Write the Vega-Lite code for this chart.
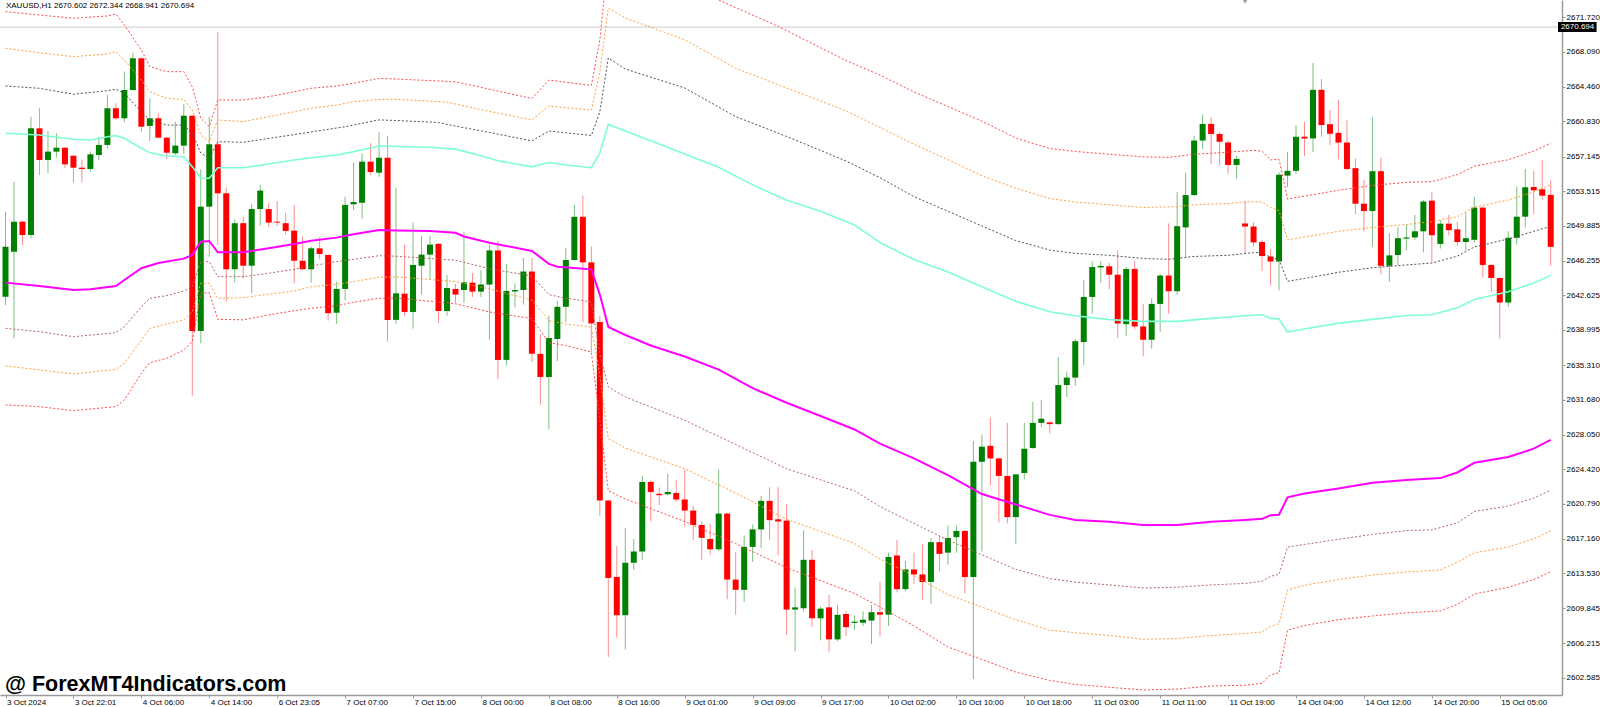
{
"$schema": "https://vega.github.io/schema/vega-lite/v6.json",
"width": 1562, "height": 695,
"autosize": {"type": "none"},
"padding": {"left": 0, "top": 0, "right": 38, "bottom": 12},
"background": "white",
"config": {"view": {"stroke": null},
 "axis": {"grid": false, "labelColor": "#000000", "domainColor": "#9a9a9a", "tickColor": "#9a9a9a", "labelFont": "Liberation Sans", "labelOverlap": false, "labelFlush": false, "labelBound": false, "title": null},
 "axisX": {"labelOverlap": false}, "axisY": {"labelOverlap": false}},
"datasets": {
"candles": [
{"i":0,"o":2642.48,"h":2651.38,"l":2641.61,"c":2647.71},
{"i":1,"o":2647.19,"h":2654.51,"l":2638.12,"c":2650.33},
{"i":2,"o":2650.33,"h":2650.41,"l":2647.89,"c":2648.93},
{"i":3,"o":2648.93,"h":2661.32,"l":2648.59,"c":2660.10},
{"i":4,"o":2660.10,"h":2662.20,"l":2655.21,"c":2656.79},
{"i":5,"o":2656.79,"h":2659.82,"l":2655.40,"c":2657.66},
{"i":6,"o":2657.66,"h":2659.58,"l":2657.06,"c":2658.07},
{"i":7,"o":2658.07,"h":2658.15,"l":2655.92,"c":2656.33},
{"i":8,"o":2657.23,"h":2657.31,"l":2654.41,"c":2655.98},
{"i":9,"o":2655.98,"h":2656.79,"l":2654.41,"c":2655.84},
{"i":10,"o":2655.84,"h":2657.66,"l":2655.57,"c":2657.38},
{"i":11,"o":2657.31,"h":2659.22,"l":2656.79,"c":2658.36},
{"i":12,"o":2658.36,"h":2663.59,"l":2658.01,"c":2662.20},
{"i":13,"o":2662.20,"h":2662.72,"l":2660.98,"c":2661.15},
{"i":14,"o":2661.15,"h":2666.03,"l":2660.73,"c":2664.11},
{"i":15,"o":2664.11,"h":2668.01,"l":2664.06,"c":2667.43},
{"i":16,"o":2667.43,"h":2667.51,"l":2659.69,"c":2660.27},
{"i":17,"o":2660.35,"h":2663.24,"l":2658.78,"c":2661.15},
{"i":18,"o":2661.15,"h":2661.68,"l":2659.04,"c":2659.12},
{"i":19,"o":2659.12,"h":2659.18,"l":2656.86,"c":2657.55},
{"i":20,"o":2657.49,"h":2660.80,"l":2657.31,"c":2658.29},
{"i":21,"o":2658.29,"h":2662.61,"l":2657.42,"c":2661.42},
{"i":22,"o":2661.42,"h":2661.50,"l":2632.12,"c":2638.89},
{"i":23,"o":2638.89,"h":2655.81,"l":2637.60,"c":2651.90},
{"i":24,"o":2651.90,"h":2661.32,"l":2646.67,"c":2658.43},
{"i":25,"o":2658.43,"h":2670.21,"l":2647.89,"c":2653.30},
{"i":26,"o":2653.30,"h":2653.89,"l":2641.96,"c":2645.35},
{"i":27,"o":2645.35,"h":2650.58,"l":2643.95,"c":2650.17},
{"i":28,"o":2650.17,"h":2650.86,"l":2644.40,"c":2645.72},
{"i":29,"o":2645.72,"h":2652.19,"l":2642.83,"c":2651.65},
{"i":30,"o":2651.65,"h":2654.14,"l":2649.91,"c":2653.58},
{"i":31,"o":2651.65,"h":2652.31,"l":2649.74,"c":2650.23},
{"i":32,"o":2650.33,"h":2652.49,"l":2649.88,"c":2650.23},
{"i":33,"o":2650.17,"h":2651.27,"l":2648.93,"c":2649.36},
{"i":34,"o":2649.39,"h":2652.08,"l":2643.88,"c":2646.24},
{"i":35,"o":2646.24,"h":2648.76,"l":2645.29,"c":2645.35},
{"i":36,"o":2645.35,"h":2647.71,"l":2643.95,"c":2647.54},
{"i":37,"o":2647.54,"h":2648.70,"l":2646.39,"c":2646.95},
{"i":38,"o":2646.85,"h":2646.91,"l":2639.97,"c":2640.75},
{"i":39,"o":2640.80,"h":2644.05,"l":2639.62,"c":2643.29},
{"i":40,"o":2643.29,"h":2652.95,"l":2642.13,"c":2652.08},
{"i":41,"o":2652.15,"h":2656.50,"l":2651.56,"c":2652.39},
{"i":42,"o":2652.31,"h":2657.49,"l":2650.64,"c":2656.61},
{"i":43,"o":2656.61,"h":2658.53,"l":2655.21,"c":2655.53},
{"i":44,"o":2655.46,"h":2659.72,"l":2655.03,"c":2657.02},
{"i":45,"o":2657.02,"h":2659.30,"l":2637.77,"c":2640.05},
{"i":46,"o":2640.05,"h":2653.89,"l":2639.65,"c":2642.83},
{"i":47,"o":2642.79,"h":2647.89,"l":2640.49,"c":2640.88},
{"i":48,"o":2640.88,"h":2650.25,"l":2639.14,"c":2645.80},
{"i":49,"o":2645.72,"h":2648.84,"l":2642.70,"c":2646.88},
{"i":50,"o":2646.88,"h":2648.84,"l":2644.25,"c":2647.93},
{"i":51,"o":2648.01,"h":2648.10,"l":2639.73,"c":2640.98},
{"i":52,"o":2640.98,"h":2644.75,"l":2640.49,"c":2643.39},
{"i":53,"o":2643.29,"h":2643.81,"l":2641.85,"c":2642.70},
{"i":54,"o":2643.18,"h":2649.28,"l":2641.85,"c":2643.98},
{"i":55,"o":2643.95,"h":2644.96,"l":2642.45,"c":2643.01},
{"i":56,"o":2643.01,"h":2645.22,"l":2642.45,"c":2643.75},
{"i":57,"o":2643.75,"h":2647.93,"l":2637.98,"c":2647.32},
{"i":58,"o":2647.32,"h":2648.31,"l":2633.87,"c":2635.86},
{"i":59,"o":2635.86,"h":2645.90,"l":2635.27,"c":2643.08},
{"i":60,"o":2643.01,"h":2643.86,"l":2641.35,"c":2643.18},
{"i":61,"o":2643.18,"h":2646.53,"l":2641.65,"c":2645.11},
{"i":62,"o":2645.11,"h":2646.53,"l":2635.65,"c":2636.51},
{"i":63,"o":2636.49,"h":2638.53,"l":2631.17,"c":2634.07},
{"i":64,"o":2634.07,"h":2640.49,"l":2628.57,"c":2638.15},
{"i":65,"o":2638.05,"h":2642.04,"l":2635.75,"c":2641.42},
{"i":66,"o":2641.42,"h":2647.57,"l":2639.83,"c":2646.32},
{"i":67,"o":2646.32,"h":2652.08,"l":2646.27,"c":2650.84},
{"i":68,"o":2650.84,"h":2653.08,"l":2639.83,"c":2646.07},
{"i":69,"o":2646.07,"h":2647.73,"l":2636.69,"c":2639.68},
{"i":70,"o":2639.83,"h":2640.46,"l":2619.55,"c":2621.14},
{"i":71,"o":2621.14,"h":2621.19,"l":2604.78,"c":2613.04},
{"i":72,"o":2613.15,"h":2616.38,"l":2606.82,"c":2609.14},
{"i":73,"o":2609.14,"h":2618.28,"l":2605.54,"c":2614.63},
{"i":74,"o":2614.63,"h":2617.12,"l":2613.88,"c":2615.81},
{"i":75,"o":2615.81,"h":2623.72,"l":2614.93,"c":2623.09},
{"i":76,"o":2623.09,"h":2623.23,"l":2618.95,"c":2622.04},
{"i":77,"o":2621.85,"h":2622.50,"l":2620.65,"c":2621.70},
{"i":78,"o":2621.80,"h":2623.92,"l":2621.68,"c":2622.04},
{"i":79,"o":2621.93,"h":2623.32,"l":2621.02,"c":2621.25},
{"i":80,"o":2621.25,"h":2624.39,"l":2618.40,"c":2620.09},
{"i":81,"o":2620.09,"h":2620.58,"l":2617.02,"c":2618.58},
{"i":82,"o":2618.58,"h":2618.95,"l":2614.93,"c":2617.24},
{"i":83,"o":2617.12,"h":2618.71,"l":2615.49,"c":2616.04},
{"i":84,"o":2616.04,"h":2624.39,"l":2615.86,"c":2619.78},
{"i":85,"o":2619.78,"h":2619.86,"l":2610.79,"c":2612.87},
{"i":86,"o":2612.87,"h":2615.72,"l":2609.18,"c":2611.80},
{"i":87,"o":2611.80,"h":2617.48,"l":2610.56,"c":2616.29},
{"i":88,"o":2616.29,"h":2618.63,"l":2614.72,"c":2618.12},
{"i":89,"o":2618.12,"h":2621.62,"l":2616.18,"c":2621.11},
{"i":90,"o":2621.11,"h":2622.54,"l":2617.02,"c":2619.09},
{"i":91,"o":2619.18,"h":2622.54,"l":2615.40,"c":2618.95},
{"i":92,"o":2619.04,"h":2620.79,"l":2607.07,"c":2609.73},
{"i":93,"o":2609.73,"h":2612.04,"l":2605.36,"c":2609.96},
{"i":94,"o":2609.87,"h":2618.02,"l":2609.51,"c":2614.94},
{"i":95,"o":2614.94,"h":2615.97,"l":2607.89,"c":2608.82},
{"i":96,"o":2608.82,"h":2610.06,"l":2606.51,"c":2609.83},
{"i":97,"o":2609.96,"h":2611.26,"l":2605.27,"c":2606.61},
{"i":98,"o":2606.61,"h":2610.22,"l":2606.41,"c":2609.18},
{"i":99,"o":2609.27,"h":2609.59,"l":2606.97,"c":2607.89},
{"i":100,"o":2608.33,"h":2609.10,"l":2607.57,"c":2608.46},
{"i":101,"o":2608.36,"h":2609.55,"l":2608.02,"c":2608.67},
{"i":102,"o":2608.58,"h":2610.22,"l":2606.14,"c":2609.46},
{"i":103,"o":2609.46,"h":2612.62,"l":2606.91,"c":2609.20},
{"i":104,"o":2609.20,"h":2615.69,"l":2608.02,"c":2615.24},
{"i":105,"o":2615.39,"h":2617.02,"l":2611.53,"c":2611.87},
{"i":106,"o":2611.87,"h":2614.82,"l":2611.64,"c":2613.93},
{"i":107,"o":2613.93,"h":2615.69,"l":2612.41,"c":2613.41},
{"i":108,"o":2613.41,"h":2616.57,"l":2610.74,"c":2612.62},
{"i":109,"o":2612.62,"h":2617.22,"l":2610.34,"c":2616.79},
{"i":110,"o":2616.79,"h":2617.45,"l":2613.71,"c":2615.56},
{"i":111,"o":2615.69,"h":2618.53,"l":2614.45,"c":2617.22},
{"i":112,"o":2617.31,"h":2618.53,"l":2615.69,"c":2617.96},
{"i":113,"o":2617.96,"h":2618.04,"l":2611.43,"c":2613.14},
{"i":114,"o":2613.14,"h":2627.39,"l":2602.45,"c":2625.20},
{"i":115,"o":2625.20,"h":2628.05,"l":2615.81,"c":2626.78},
{"i":116,"o":2626.87,"h":2629.85,"l":2622.70,"c":2625.55},
{"i":117,"o":2625.55,"h":2625.63,"l":2618.84,"c":2623.72},
{"i":118,"o":2623.72,"h":2629.27,"l":2618.75,"c":2619.41},
{"i":119,"o":2619.41,"h":2623.95,"l":2616.57,"c":2623.88},
{"i":120,"o":2624.02,"h":2629.27,"l":2623.36,"c":2626.56},
{"i":121,"o":2626.64,"h":2631.47,"l":2626.56,"c":2629.27},
{"i":122,"o":2629.27,"h":2631.69,"l":2628.84,"c":2629.71},
{"i":123,"o":2629.32,"h":2629.40,"l":2628.18,"c":2629.14},
{"i":124,"o":2629.14,"h":2636.16,"l":2629.08,"c":2633.23},
{"i":125,"o":2633.23,"h":2634.64,"l":2631.99,"c":2634.01},
{"i":126,"o":2634.01,"h":2638.05,"l":2633.14,"c":2637.82},
{"i":127,"o":2637.73,"h":2644.24,"l":2635.33,"c":2642.45},
{"i":128,"o":2642.45,"h":2646.19,"l":2640.71,"c":2645.58},
{"i":129,"o":2645.54,"h":2646.19,"l":2643.96,"c":2645.70},
{"i":130,"o":2645.66,"h":2645.99,"l":2643.27,"c":2644.78},
{"i":131,"o":2644.78,"h":2647.30,"l":2638.17,"c":2639.67},
{"i":132,"o":2639.60,"h":2645.58,"l":2638.38,"c":2645.38},
{"i":133,"o":2645.38,"h":2646.19,"l":2639.07,"c":2639.36},
{"i":134,"o":2639.36,"h":2641.72,"l":2636.22,"c":2637.97},
{"i":135,"o":2637.97,"h":2642.32,"l":2637.03,"c":2641.72},
{"i":136,"o":2641.72,"h":2644.88,"l":2638.78,"c":2644.69},
{"i":137,"o":2644.69,"h":2650.14,"l":2640.71,"c":2643.05},
{"i":138,"o":2643.05,"h":2653.45,"l":2642.65,"c":2649.86},
{"i":139,"o":2649.73,"h":2655.48,"l":2646.60,"c":2653.11},
{"i":140,"o":2653.11,"h":2659.31,"l":2653.04,"c":2658.82},
{"i":141,"o":2658.82,"h":2661.55,"l":2657.93,"c":2660.56},
{"i":142,"o":2660.56,"h":2661.26,"l":2656.37,"c":2659.51},
{"i":143,"o":2659.51,"h":2659.71,"l":2656.26,"c":2658.69},
{"i":144,"o":2658.62,"h":2658.82,"l":2655.35,"c":2656.26},
{"i":145,"o":2656.26,"h":2657.20,"l":2654.83,"c":2656.90},
{"i":146,"o":2650.14,"h":2652.50,"l":2647.01,"c":2649.82},
{"i":147,"o":2649.82,"h":2650.27,"l":2647.70,"c":2648.16},
{"i":148,"o":2648.20,"h":2648.43,"l":2645.18,"c":2646.73},
{"i":149,"o":2646.69,"h":2647.42,"l":2643.67,"c":2646.16},
{"i":150,"o":2646.16,"h":2655.48,"l":2643.14,"c":2655.24},
{"i":151,"o":2655.15,"h":2657.60,"l":2653.93,"c":2655.65},
{"i":152,"o":2655.65,"h":2660.44,"l":2655.32,"c":2659.22},
{"i":153,"o":2659.22,"h":2660.77,"l":2657.20,"c":2659.03},
{"i":154,"o":2659.04,"h":2666.94,"l":2657.62,"c":2664.13},
{"i":155,"o":2664.13,"h":2665.26,"l":2659.21,"c":2660.44},
{"i":156,"o":2660.53,"h":2662.02,"l":2658.34,"c":2659.53},
{"i":157,"o":2659.62,"h":2663.07,"l":2656.85,"c":2658.61},
{"i":158,"o":2658.61,"h":2660.93,"l":2655.73,"c":2655.84},
{"i":159,"o":2655.93,"h":2656.94,"l":2651.12,"c":2652.21},
{"i":160,"o":2652.21,"h":2654.73,"l":2649.33,"c":2651.44},
{"i":161,"o":2651.44,"h":2661.25,"l":2647.71,"c":2655.61},
{"i":162,"o":2655.61,"h":2657.04,"l":2644.83,"c":2645.71},
{"i":163,"o":2645.71,"h":2649.11,"l":2644.03,"c":2646.80},
{"i":164,"o":2646.84,"h":2649.79,"l":2645.80,"c":2648.60},
{"i":165,"o":2648.56,"h":2650.01,"l":2647.32,"c":2648.68},
{"i":166,"o":2648.68,"h":2651.04,"l":2648.43,"c":2649.32},
{"i":167,"o":2649.32,"h":2652.60,"l":2647.12,"c":2652.44},
{"i":168,"o":2652.53,"h":2653.45,"l":2646.12,"c":2648.91},
{"i":169,"o":2648.00,"h":2650.52,"l":2647.52,"c":2650.12},
{"i":170,"o":2650.12,"h":2651.04,"l":2648.91,"c":2649.44},
{"i":171,"o":2649.53,"h":2650.32,"l":2647.84,"c":2648.20},
{"i":172,"o":2648.20,"h":2651.32,"l":2647.32,"c":2648.60},
{"i":173,"o":2648.43,"h":2652.93,"l":2648.13,"c":2651.80},
{"i":174,"o":2651.80,"h":2651.92,"l":2644.51,"c":2645.80},
{"i":175,"o":2645.80,"h":2645.88,"l":2642.99,"c":2644.44},
{"i":176,"o":2644.44,"h":2644.50,"l":2638.10,"c":2641.87},
{"i":177,"o":2641.87,"h":2649.33,"l":2641.40,"c":2648.64},
{"i":178,"o":2648.64,"h":2654.00,"l":2647.92,"c":2650.85},
{"i":179,"o":2650.85,"h":2655.84,"l":2649.72,"c":2653.93},
{"i":180,"o":2653.96,"h":2655.61,"l":2651.12,"c":2653.61},
{"i":181,"o":2653.72,"h":2656.81,"l":2652.64,"c":2653.05},
{"i":182,"o":2653.13,"h":2654.65,"l":2645.71,"c":2647.69}
],
"upper3": [
{"i":0,"v":2672.31},{"i":4,"v":2671.96},{"i":8,"v":2671.62},{"i":12,"v":2671.86},{"i":13,"v":2672.06},{"i":14,"v":2670.91},{"i":16,"v":2668.30},{"i":17,"v":2666.55},{"i":19,"v":2666.03},{"i":21,"v":2666.03},{"i":22,"v":2664.45},{"i":23,"v":2661.15},{"i":24,"v":2660.27},{"i":25,"v":2663.07},{"i":28,"v":2663.07},{"i":31,"v":2663.41},{"i":34,"v":2663.93},{"i":36,"v":2664.29},{"i":39,"v":2664.53},{"i":41,"v":2664.81},{"i":44,"v":2665.33},{"i":46,"v":2665.26},{"i":53,"v":2664.97},{"i":62,"v":2663.22},{"i":64,"v":2665.15},{"i":69,"v":2664.58},{"i":70,"v":2669.34},{"i":71,"v":2677.93},{"i":73,"v":2676.88},{"i":80,"v":2674.37},{"i":84,"v":2673.53},{"i":91,"v":2670.77},{"i":99,"v":2667.19},{"i":103,"v":2665.67},{"i":107,"v":2663.91},{"i":111,"v":2662.38},{"i":115,"v":2660.85},{"i":119,"v":2659.08},{"i":123,"v":2657.99},{"i":126,"v":2657.68},{"i":130,"v":2657.39},{"i":134,"v":2657.11},{"i":137,"v":2657.06},{"i":140,"v":2657.39},{"i":144,"v":2657.60},{"i":147,"v":2657.80},{"i":148,"v":2657.71},{"i":149,"v":2656.79},{"i":150,"v":2656.86},{"i":151,"v":2652.71},{"i":153,"v":2653.00},{"i":157,"v":2653.61},{"i":161,"v":2654.13},{"i":165,"v":2654.44},{"i":168,"v":2654.52},{"i":171,"v":2655.25},{"i":173,"v":2656.13},{"i":177,"v":2656.81},{"i":180,"v":2657.72},{"i":182,"v":2658.53}
],
"upper2": [
{"i":0,"v":2668.48},{"i":4,"v":2668.01},{"i":8,"v":2667.60},{"i":12,"v":2667.88},{"i":13,"v":2668.12},{"i":14,"v":2667.25},{"i":16,"v":2665.15},{"i":17,"v":2663.93},{"i":19,"v":2663.24},{"i":21,"v":2663.13},{"i":22,"v":2662.02},{"i":23,"v":2659.40},{"i":24,"v":2658.70},{"i":25,"v":2660.98},{"i":28,"v":2660.80},{"i":31,"v":2661.32},{"i":34,"v":2661.84},{"i":36,"v":2662.20},{"i":39,"v":2662.54},{"i":41,"v":2662.89},{"i":44,"v":2663.13},{"i":46,"v":2663.14},{"i":52,"v":2662.84},{"i":57,"v":2661.87},{"i":62,"v":2660.98},{"i":64,"v":2662.44},{"i":69,"v":2661.99},{"i":70,"v":2665.99},{"i":71,"v":2672.69},{"i":73,"v":2671.65},{"i":80,"v":2669.38},{"i":86,"v":2666.40},{"i":92,"v":2664.32},{"i":99,"v":2661.94},{"i":103,"v":2660.19},{"i":107,"v":2658.43},{"i":111,"v":2656.81},{"i":115,"v":2655.14},{"i":119,"v":2653.83},{"i":123,"v":2652.74},{"i":126,"v":2652.39},{"i":130,"v":2652.10},{"i":134,"v":2651.81},{"i":138,"v":2651.90},{"i":140,"v":2652.10},{"i":144,"v":2652.23},{"i":146,"v":2652.42},{"i":148,"v":2652.39},{"i":149,"v":2651.81},{"i":150,"v":2651.49},{"i":151,"v":2648.43},{"i":153,"v":2648.72},{"i":157,"v":2649.32},{"i":161,"v":2649.72},{"i":165,"v":2650.04},{"i":168,"v":2650.32},{"i":171,"v":2650.85},{"i":173,"v":2651.85},{"i":177,"v":2652.60},{"i":180,"v":2653.45},{"i":182,"v":2654.20}
],
"upper1": [
{"i":0,"v":2664.53},{"i":4,"v":2664.29},{"i":8,"v":2663.67},{"i":12,"v":2664.04},{"i":13,"v":2664.19},{"i":14,"v":2663.76},{"i":16,"v":2661.84},{"i":17,"v":2660.98},{"i":19,"v":2660.44},{"i":21,"v":2660.44},{"i":22,"v":2659.58},{"i":23,"v":2657.52},{"i":24,"v":2656.97},{"i":25,"v":2658.70},{"i":28,"v":2658.64},{"i":35,"v":2659.58},{"i":40,"v":2660.27},{"i":44,"v":2660.98},{"i":46,"v":2660.92},{"i":51,"v":2660.71},{"i":53,"v":2660.33},{"i":57,"v":2659.67},{"i":62,"v":2658.78},{"i":64,"v":2659.82},{"i":66,"v":2659.63},{"i":69,"v":2659.35},{"i":70,"v":2661.81},{"i":71,"v":2667.46},{"i":73,"v":2666.31},{"i":80,"v":2664.32},{"i":86,"v":2661.33},{"i":92,"v":2659.25},{"i":99,"v":2656.68},{"i":103,"v":2654.93},{"i":107,"v":2652.95},{"i":111,"v":2651.42},{"i":115,"v":2649.88},{"i":119,"v":2648.35},{"i":123,"v":2647.35},{"i":126,"v":2647.01},{"i":130,"v":2646.81},{"i":134,"v":2646.48},{"i":137,"v":2646.39},{"i":140,"v":2646.69},{"i":144,"v":2646.81},{"i":147,"v":2647.09},{"i":148,"v":2647.09},{"i":149,"v":2646.60},{"i":150,"v":2646.39},{"i":151,"v":2644.09},{"i":153,"v":2644.39},{"i":157,"v":2645.03},{"i":161,"v":2645.51},{"i":165,"v":2645.80},{"i":168,"v":2646.00},{"i":171,"v":2646.72},{"i":173,"v":2647.68},{"i":177,"v":2648.52},{"i":180,"v":2649.32},{"i":182,"v":2649.84}
],
"cyan": [
{"i":0,"v":2659.58},{"i":4,"v":2659.40},{"i":8,"v":2658.96},{"i":10,"v":2658.88},{"i":12,"v":2659.22},{"i":13,"v":2659.33},{"i":14,"v":2659.05},{"i":16,"v":2658.01},{"i":17,"v":2657.55},{"i":19,"v":2657.20},{"i":21,"v":2657.13},{"i":22,"v":2656.09},{"i":23,"v":2654.87},{"i":24,"v":2654.87},{"i":25,"v":2655.98},{"i":28,"v":2655.98},{"i":31,"v":2656.36},{"i":34,"v":2656.79},{"i":36,"v":2657.02},{"i":39,"v":2657.31},{"i":41,"v":2657.66},{"i":44,"v":2658.25},{"i":46,"v":2658.19},{"i":50,"v":2658.12},{"i":53,"v":2657.92},{"i":56,"v":2657.22},{"i":58,"v":2656.71},{"i":62,"v":2656.07},{"i":64,"v":2656.52},{"i":66,"v":2656.26},{"i":69,"v":2655.98},{"i":70,"v":2657.52},{"i":71,"v":2660.51},{"i":73,"v":2659.82},{"i":76,"v":2658.80},{"i":80,"v":2657.42},{"i":84,"v":2656.02},{"i":88,"v":2654.18},{"i":92,"v":2652.57},{"i":96,"v":2651.42},{"i":100,"v":2649.98},{"i":103,"v":2648.14},{"i":107,"v":2646.37},{"i":111,"v":2645.06},{"i":115,"v":2643.52},{"i":119,"v":2641.99},{"i":123,"v":2640.90},{"i":126,"v":2640.49},{"i":130,"v":2640.08},{"i":134,"v":2639.89},{"i":138,"v":2639.89},{"i":142,"v":2640.21},{"i":146,"v":2640.49},{"i":148,"v":2640.58},{"i":149,"v":2640.21},{"i":150,"v":2640.16},{"i":151,"v":2638.78},{"i":153,"v":2639.10},{"i":157,"v":2639.71},{"i":161,"v":2640.10},{"i":165,"v":2640.51},{"i":168,"v":2640.59},{"i":171,"v":2641.31},{"i":173,"v":2642.18},{"i":177,"v":2642.99},{"i":180,"v":2643.92},{"i":182,"v":2644.71}
],
"mid": [
{"i":0,"v":2643.95},{"i":4,"v":2643.60},{"i":8,"v":2643.18},{"i":10,"v":2643.26},{"i":13,"v":2643.60},{"i":14,"v":2644.22},{"i":16,"v":2645.46},{"i":18,"v":2646.01},{"i":21,"v":2646.46},{"i":22,"v":2646.85},{"i":23,"v":2648.23},{"i":24,"v":2648.31},{"i":25,"v":2647.13},{"i":28,"v":2647.13},{"i":31,"v":2647.54},{"i":34,"v":2648.00},{"i":36,"v":2648.34},{"i":39,"v":2648.66},{"i":41,"v":2649.01},{"i":44,"v":2649.46},{"i":46,"v":2649.41},{"i":50,"v":2649.36},{"i":53,"v":2649.17},{"i":54,"v":2648.78},{"i":57,"v":2648.13},{"i":62,"v":2647.27},{"i":64,"v":2645.91},{"i":65,"v":2645.61},{"i":67,"v":2645.49},{"i":69,"v":2645.34},{"i":70,"v":2642.70},{"i":71,"v":2639.31},{"i":73,"v":2638.47},{"i":76,"v":2637.37},{"i":80,"v":2636.22},{"i":84,"v":2634.84},{"i":88,"v":2632.90},{"i":92,"v":2631.38},{"i":96,"v":2629.99},{"i":100,"v":2628.58},{"i":103,"v":2627.09},{"i":107,"v":2625.55},{"i":111,"v":2623.80},{"i":115,"v":2621.82},{"i":119,"v":2620.73},{"i":123,"v":2619.64},{"i":126,"v":2619.11},{"i":130,"v":2618.91},{"i":134,"v":2618.58},{"i":138,"v":2618.58},{"i":142,"v":2618.91},{"i":146,"v":2619.11},{"i":148,"v":2619.23},{"i":149,"v":2619.60},{"i":150,"v":2619.65},{"i":151,"v":2621.48},{"i":153,"v":2621.88},{"i":157,"v":2622.41},{"i":161,"v":2623.01},{"i":165,"v":2623.28},{"i":169,"v":2623.49},{"i":171,"v":2624.08},{"i":173,"v":2625.09},{"i":177,"v":2625.70},{"i":180,"v":2626.57},{"i":182,"v":2627.49}
],
"lower1": [
{"i":0,"v":2639.17},{"i":4,"v":2638.81},{"i":8,"v":2638.29},{"i":13,"v":2638.71},{"i":14,"v":2639.34},{"i":16,"v":2641.43},{"i":17,"v":2642.31},{"i":19,"v":2642.59},{"i":21,"v":2643.08},{"i":22,"v":2643.52},{"i":23,"v":2646.15},{"i":24,"v":2646.15},{"i":25,"v":2644.57},{"i":28,"v":2644.57},{"i":31,"v":2644.93},{"i":34,"v":2645.35},{"i":36,"v":2645.69},{"i":39,"v":2646.15},{"i":41,"v":2646.39},{"i":44,"v":2646.77},{"i":46,"v":2646.71},{"i":53,"v":2646.30},{"i":57,"v":2645.41},{"i":62,"v":2644.65},{"i":64,"v":2642.70},{"i":66,"v":2642.31},{"i":69,"v":2641.93},{"i":70,"v":2636.51},{"i":71,"v":2633.03},{"i":73,"v":2631.98},{"i":80,"v":2629.54},{"i":86,"v":2627.01},{"i":92,"v":2624.47},{"i":100,"v":2622.15},{"i":103,"v":2620.51},{"i":107,"v":2618.75},{"i":111,"v":2617.00},{"i":115,"v":2615.47},{"i":119,"v":2613.93},{"i":123,"v":2612.97},{"i":126,"v":2612.60},{"i":130,"v":2612.31},{"i":134,"v":2611.99},{"i":138,"v":2612.07},{"i":142,"v":2612.31},{"i":146,"v":2612.47},{"i":148,"v":2612.69},{"i":149,"v":2613.21},{"i":150,"v":2613.42},{"i":151,"v":2616.27},{"i":153,"v":2616.55},{"i":157,"v":2617.08},{"i":161,"v":2617.60},{"i":165,"v":2618.00},{"i":168,"v":2618.07},{"i":171,"v":2618.80},{"i":173,"v":2620.00},{"i":177,"v":2620.56},{"i":180,"v":2621.40},{"i":182,"v":2622.21}
],
"lower2": [
{"i":0,"v":2635.23},{"i":4,"v":2634.81},{"i":8,"v":2634.39},{"i":13,"v":2634.88},{"i":14,"v":2635.51},{"i":16,"v":2637.95},{"i":17,"v":2639.17},{"i":19,"v":2639.62},{"i":21,"v":2640.05},{"i":22,"v":2640.91},{"i":23,"v":2643.88},{"i":24,"v":2643.88},{"i":25,"v":2642.31},{"i":28,"v":2642.37},{"i":31,"v":2642.74},{"i":34,"v":2643.08},{"i":36,"v":2643.52},{"i":39,"v":2643.78},{"i":41,"v":2644.05},{"i":44,"v":2644.51},{"i":46,"v":2644.56},{"i":53,"v":2644.06},{"i":57,"v":2643.29},{"i":62,"v":2642.13},{"i":64,"v":2639.99},{"i":66,"v":2639.62},{"i":69,"v":2639.31},{"i":70,"v":2634.28},{"i":71,"v":2627.60},{"i":73,"v":2626.64},{"i":80,"v":2624.47},{"i":86,"v":2621.93},{"i":92,"v":2619.17},{"i":100,"v":2616.65},{"i":103,"v":2615.02},{"i":107,"v":2613.27},{"i":111,"v":2611.30},{"i":115,"v":2609.99},{"i":119,"v":2608.67},{"i":123,"v":2607.57},{"i":126,"v":2607.31},{"i":130,"v":2607.02},{"i":134,"v":2606.62},{"i":138,"v":2606.70},{"i":142,"v":2607.02},{"i":146,"v":2607.22},{"i":148,"v":2607.39},{"i":149,"v":2608.00},{"i":150,"v":2608.24},{"i":151,"v":2611.78},{"i":153,"v":2612.28},{"i":157,"v":2612.88},{"i":161,"v":2613.35},{"i":165,"v":2613.67},{"i":169,"v":2613.88},{"i":171,"v":2614.67},{"i":173,"v":2615.68},{"i":177,"v":2616.28},{"i":180,"v":2617.15},{"i":182,"v":2617.96}
],
"lower3": [
{"i":0,"v":2631.15},{"i":4,"v":2630.97},{"i":8,"v":2630.55},{"i":13,"v":2630.97},{"i":14,"v":2631.67},{"i":16,"v":2634.47},{"i":17,"v":2635.57},{"i":19,"v":2636.03},{"i":21,"v":2636.90},{"i":22,"v":2637.77},{"i":23,"v":2642.83},{"i":24,"v":2642.90},{"i":25,"v":2640.11},{"i":28,"v":2640.05},{"i":31,"v":2640.57},{"i":34,"v":2641.01},{"i":36,"v":2641.27},{"i":39,"v":2641.53},{"i":41,"v":2641.90},{"i":44,"v":2642.31},{"i":46,"v":2642.34},{"i":53,"v":2641.74},{"i":57,"v":2640.88},{"i":62,"v":2640.18},{"i":64,"v":2637.67},{"i":66,"v":2637.37},{"i":69,"v":2636.69},{"i":70,"v":2629.58},{"i":71,"v":2622.18},{"i":73,"v":2621.31},{"i":80,"v":2618.95},{"i":86,"v":2616.64},{"i":92,"v":2614.11},{"i":100,"v":2611.42},{"i":103,"v":2609.99},{"i":107,"v":2608.02},{"i":111,"v":2605.82},{"i":115,"v":2604.51},{"i":119,"v":2603.19},{"i":123,"v":2602.31},{"i":126,"v":2601.90},{"i":130,"v":2601.60},{"i":134,"v":2601.32},{"i":138,"v":2601.41},{"i":142,"v":2601.73},{"i":146,"v":2601.81},{"i":148,"v":2602.01},{"i":149,"v":2602.91},{"i":150,"v":2603.11},{"i":151,"v":2607.58},{"i":153,"v":2608.07},{"i":157,"v":2608.67},{"i":161,"v":2609.06},{"i":165,"v":2609.39},{"i":169,"v":2609.59},{"i":171,"v":2610.27},{"i":173,"v":2611.35},{"i":177,"v":2612.07},{"i":180,"v":2612.88},{"i":182,"v":2613.67}
]
},
"layer": [
{"data": {"name": "candles"}, "mark": {"type": "rule", "strokeWidth": 1},
 "encoding": {
  "x": {"field": "i", "type": "quantitative", "scale": {"domain": [-0.06, 182.74], "nice": false, "zero": false},
   "axis": {"orient": "bottom", "title": null, "values": [0,8,16,24,32,40,48,56,64,72,80,88,96,104,112,120,128,136,144,152,160,168,176], "tickCount": 60,
    "labelExpr": "['3 Oct 2024','3 Oct 22:01','4 Oct 06:00','4 Oct 14:00','6 Oct 23:05','7 Oct 07:00','7 Oct 15:00','8 Oct 00:00','8 Oct 08:00','8 Oct 16:00','9 Oct 01:00','9 Oct 09:00','9 Oct 17:00','10 Oct 02:00','10 Oct 10:00','10 Oct 18:00','11 Oct 03:00','11 Oct 11:00','11 Oct 19:00','14 Oct 04:00','14 Oct 12:00','14 Oct 20:00','15 Oct 05:00'][round(datum.value/8)]",
    "labelAlign": "left", "labelBaseline": "top", "labelPadding": 0, "labelOffset": 1, "tickSize": 3, "labelFontSize": 8, "labelOverlap": false, "labelFlush": false, "domainWidth": 1.5, "grid": false}},
  "y": {"field": "l", "type": "quantitative", "scale": {"domain": [2600.79, 2673.53], "nice": false, "zero": false},
   "axis": {"orient": "right", "title": null, "values": [2671.72, 2668.09, 2664.46, 2660.83, 2657.145, 2653.515, 2649.885, 2646.255, 2642.625, 2638.995, 2635.31, 2631.68, 2628.05, 2624.42, 2620.79, 2617.16, 2613.53, 2609.845, 2606.215, 2602.585], "tickCount": 60, "format": ".3f", "labelFontSize": 8, "tickSize": 3, "labelPadding": 1, "labelOverlap": false, "labelFlush": false, "domainWidth": 1.5, "grid": false}},
  "y2": {"field": "h"},
  "color": {"condition": {"test": "datum.c >= datum.o", "value": "#7fbf7f"}, "value": "#ff8c8c"}}},
{"data": {"values": [{}]}, "mark": {"type": "rule", "color": "#cccccc", "strokeWidth": 1},
 "encoding": {"y": {"datum": 2670.694, "type": "quantitative", "scale": {"domain": [2600.79, 2673.53], "nice": false, "zero": false}}}},
{"data": {"name": "candles"}, "mark": {"type": "bar", "size": 6, "orient": "vertical"},
 "encoding": {
  "x": {"field": "i", "type": "quantitative", "scale": {"domain": [-0.06, 182.74], "nice": false, "zero": false}},
  "y": {"field": "o", "type": "quantitative", "scale": {"domain": [2600.79, 2673.53], "nice": false, "zero": false}},
  "y2": {"field": "c"},
  "color": {"condition": {"test": "datum.c >= datum.o", "value": "#008000"}, "value": "#ff0000"}}},
{"data": {"name": "upper3"}, "mark": {"type": "line", "color": "#ff4a4a", "strokeWidth": 1, "strokeDash": [2, 2], "clip": true},
 "encoding": {"x": {"field": "i", "type": "quantitative", "scale": {"domain": [-0.06, 182.74], "nice": false, "zero": false}},
  "y": {"field": "v", "type": "quantitative", "scale": {"domain": [2600.79, 2673.53], "nice": false, "zero": false}}}},
{"data": {"name": "upper2"}, "mark": {"type": "line", "color": "#ffa040", "strokeWidth": 1, "strokeDash": [2, 2], "clip": true},
 "encoding": {"x": {"field": "i", "type": "quantitative", "scale": {"domain": [-0.06, 182.74], "nice": false, "zero": false}},
  "y": {"field": "v", "type": "quantitative", "scale": {"domain": [2600.79, 2673.53], "nice": false, "zero": false}}}},
{"data": {"name": "upper1"}, "mark": {"type": "line", "color": "#505050", "strokeWidth": 1, "strokeDash": [2, 2], "clip": true},
 "encoding": {"x": {"field": "i", "type": "quantitative", "scale": {"domain": [-0.06, 182.74], "nice": false, "zero": false}},
  "y": {"field": "v", "type": "quantitative", "scale": {"domain": [2600.79, 2673.53], "nice": false, "zero": false}}}},
{"data": {"name": "cyan"}, "mark": {"type": "line", "color": "#7fffd4", "strokeWidth": 1.6, "clip": true},
 "encoding": {"x": {"field": "i", "type": "quantitative", "scale": {"domain": [-0.06, 182.74], "nice": false, "zero": false}},
  "y": {"field": "v", "type": "quantitative", "scale": {"domain": [2600.79, 2673.53], "nice": false, "zero": false}}}},
{"data": {"name": "mid"}, "mark": {"type": "line", "color": "#ff00ff", "strokeWidth": 2, "clip": true},
 "encoding": {"x": {"field": "i", "type": "quantitative", "scale": {"domain": [-0.06, 182.74], "nice": false, "zero": false}},
  "y": {"field": "v", "type": "quantitative", "scale": {"domain": [2600.79, 2673.53], "nice": false, "zero": false}}}},
{"data": {"name": "lower1"}, "mark": {"type": "line", "color": "#b86666", "strokeWidth": 1, "strokeDash": [2, 2], "clip": true},
 "encoding": {"x": {"field": "i", "type": "quantitative", "scale": {"domain": [-0.06, 182.74], "nice": false, "zero": false}},
  "y": {"field": "v", "type": "quantitative", "scale": {"domain": [2600.79, 2673.53], "nice": false, "zero": false}}}},
{"data": {"name": "lower2"}, "mark": {"type": "line", "color": "#ffa040", "strokeWidth": 1, "strokeDash": [2, 2], "clip": true},
 "encoding": {"x": {"field": "i", "type": "quantitative", "scale": {"domain": [-0.06, 182.74], "nice": false, "zero": false}},
  "y": {"field": "v", "type": "quantitative", "scale": {"domain": [2600.79, 2673.53], "nice": false, "zero": false}}}},
{"data": {"name": "lower3"}, "mark": {"type": "line", "color": "#ff4a4a", "strokeWidth": 1, "strokeDash": [2, 2], "clip": true},
 "encoding": {"x": {"field": "i", "type": "quantitative", "scale": {"domain": [-0.06, 182.74], "nice": false, "zero": false}},
  "y": {"field": "v", "type": "quantitative", "scale": {"domain": [2600.79, 2673.53], "nice": false, "zero": false}}}},
{"data": {"values": [{}]}, "mark": {"type": "text", "text": "XAUUSD,H1 2670.602 2672.344 2668.941 2670.694", "align": "left", "baseline": "top", "font": "Liberation Sans", "fontSize": 8, "color": "#000000"},
 "encoding": {"x": {"datum": 0.05, "type": "quantitative", "scale": {"domain": [-0.06, 182.74], "nice": false, "zero": false}},
  "y": {"datum": 2673.32, "type": "quantitative", "scale": {"domain": [2600.79, 2673.53], "nice": false, "zero": false}}}},
{"data": {"values": [{}]}, "mark": {"type": "text", "text": "@ ForexMT4Indicators.com", "align": "left", "baseline": "alphabetic", "font": "Liberation Sans", "fontWeight": "bold", "fontSize": 21.5, "color": "#000000"},
 "encoding": {"x": {"datum": -0.06, "type": "quantitative", "scale": {"domain": [-0.06, 182.74], "nice": false, "zero": false}},
  "y": {"datum": 2601.21, "type": "quantitative", "scale": {"domain": [2600.79, 2673.53], "nice": false, "zero": false}}}},
{"data": {"values": [{}]}, "mark": {"type": "point", "shape": "triangle-down", "filled": true, "color": "#a0a0a0", "size": 40, "opacity": 1},
 "encoding": {"x": {"datum": 146, "type": "quantitative", "scale": {"domain": [-0.06, 182.74], "nice": false, "zero": false}},
  "y": {"datum": 2673.42, "type": "quantitative", "scale": {"domain": [2600.79, 2673.53], "nice": false, "zero": false}}}},
{"data": {"values": [{}]}, "mark": {"type": "rect", "color": "#000000"},
 "encoding": {"x": {"datum": 182.86, "type": "quantitative", "scale": {"domain": [-0.06, 182.74], "nice": false, "zero": false}},
  "x2": {"datum": 187.4},
  "y": {"datum": 2671.23, "type": "quantitative", "scale": {"domain": [2600.79, 2673.53], "nice": false, "zero": false}},
  "y2": {"datum": 2670.18}}},
{"data": {"values": [{}]}, "mark": {"type": "text", "text": "2670.694", "align": "left", "baseline": "middle", "font": "Liberation Sans", "fontSize": 8, "color": "#ffffff"},
 "encoding": {"x": {"datum": 183.2, "type": "quantitative", "scale": {"domain": [-0.06, 182.74], "nice": false, "zero": false}},
  "y": {"datum": 2670.694, "type": "quantitative", "scale": {"domain": [2600.79, 2673.53], "nice": false, "zero": false}}}}
]
}
